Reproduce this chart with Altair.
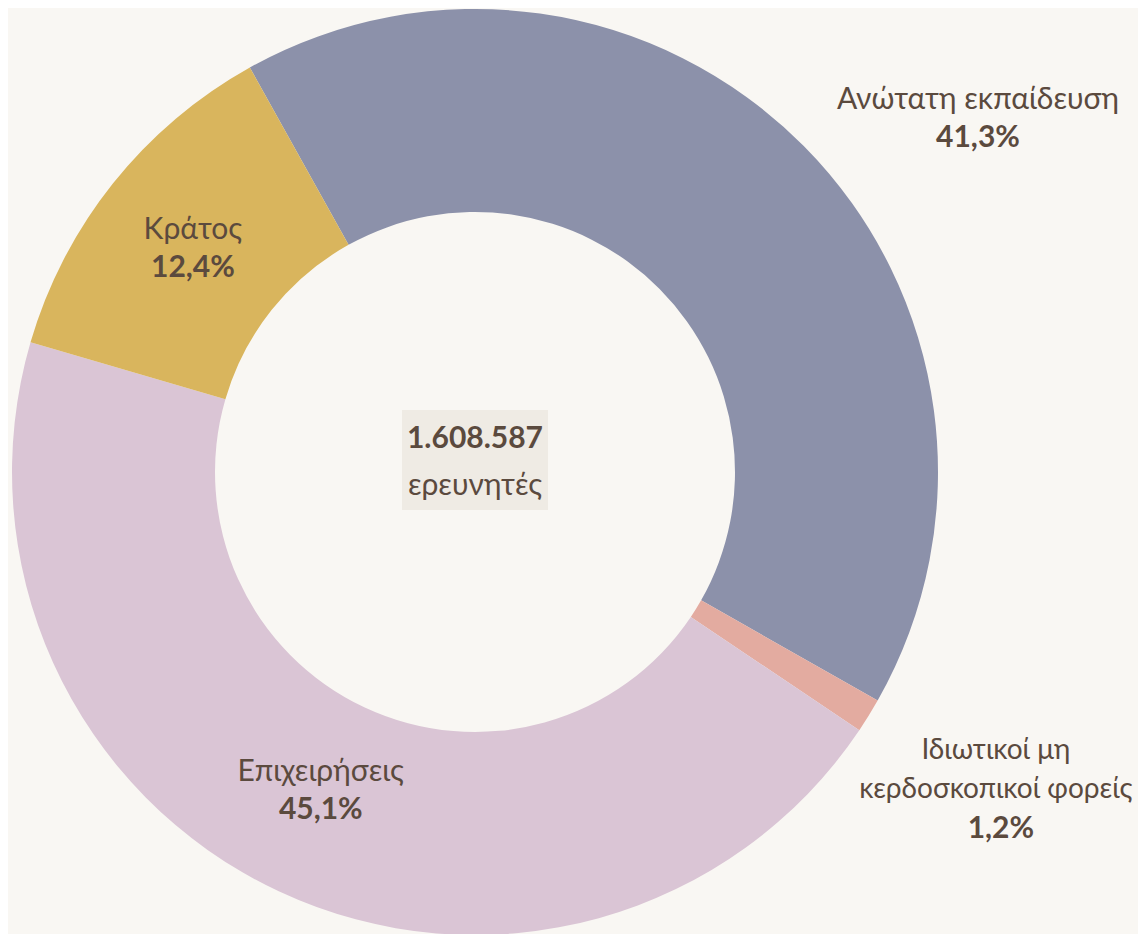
import math
import altair as alt
import pandas as pd

# ---- data ----
categories = ["Ανώτατη εκπαίδευση", "Ιδιωτικοί μη κερδοσκοπικοί φορείς", "Επιχειρήσεις", "Κράτος"]
label_names = ["Ανώτατη εκπαίδευση", "Ιδιωτικοί μη\nκερδοσκοπικοί φορείς", "Επιχειρήσεις", "Κράτος"]
shares = [41.3, 1.2, 45.1, 12.4]
share_labels = ["41,3%", "1,2%", "45,1%", "12,4%"]
colors = ["#8c91aa", "#e3aba0", "#dac5d5", "#d9b55d"]
total_label = ["1.608.587"]
total_unit = ["ερευνητές"]

df = pd.DataFrame({
    "cat": categories,
    "name": label_names,
    "share": shares,
    "pct": share_labels,
    "order": list(range(len(categories))),
})

FONT = "Lato"
TXT = "#5b4a3e"
BG = "#f9f7f3"
CX, CY = 467, 464
start = math.radians(-29.1)
theta_scale = alt.Scale(range=[start, start + 2 * math.pi])

base = alt.Chart(df).encode(
    theta=alt.Theta("share:Q", stack=True, scale=theta_scale),
    order=alt.Order("order:Q"),
    x=alt.value(CX),
    y=alt.value(CY),
)

arcs = base.mark_arc(radius=463, innerRadius=260).encode(
    color=alt.Color("cat:N", scale=alt.Scale(domain=categories, range=colors), legend=None)
)


def label(i, r, dx, dy, name_dy, pct_dy, size=30, pdx=0):
    sel = f"datum.order == {i}"
    name = base.transform_calculate(t=f"{sel} ? datum.name : ''").mark_text(
        radius=r, dx=dx, dy=dy + name_dy, font=FONT, fontSize=size, color=TXT,
        lineBreak="\n", lineHeight=39, baseline="middle", align="center",
    ).encode(text="t:N")
    pct = base.transform_calculate(t=f"{sel} ? datum.pct : ''").mark_text(
        radius=r, dx=dx + pdx, dy=dy + pct_dy, font=FONT, fontSize=30, fontWeight="bold",
        color=TXT, baseline="middle", align="center",
    ).encode(text="t:N")
    return [name, pct]


labels = []
labels += label(0, 614, 67, 79, -19, 19)
labels += label(1, 616, -3, -6, -39, 39, size=28, pdx=5)
labels += label(2, 352, -5, 0, -19, 19)
labels += label(3, 357, -3, 0, -19, 19)

center_df = pd.DataFrame({"total": total_label, "unit": total_unit})
center_box = alt.Chart(center_df).mark_rect(color="#efebe4").encode(
    x=alt.value(CX - 73), x2=alt.value(CX + 73),
    y=alt.value(CY - 62), y2=alt.value(CY + 38),
)
center_total = alt.Chart(center_df).mark_text(
    font=FONT, fontSize=30, fontWeight="bold", color=TXT, baseline="middle", align="center"
).encode(text="total:N", x=alt.value(CX), y=alt.value(CY - 33))
center_unit = alt.Chart(center_df).mark_text(
    font=FONT, fontSize=30, color=TXT, baseline="middle", align="center"
).encode(text="unit:N", x=alt.value(CX), y=alt.value(CY + 14))

chart = alt.layer(arcs, *labels, center_box, center_total, center_unit).properties(
    width=1130, height=926, padding=0, autosize=alt.AutoSizeParams(type="none"),
    background=BG,
).configure_view(stroke=None)

chart.save("out.html", embed_options={"renderer": "svg", "actions": False})
